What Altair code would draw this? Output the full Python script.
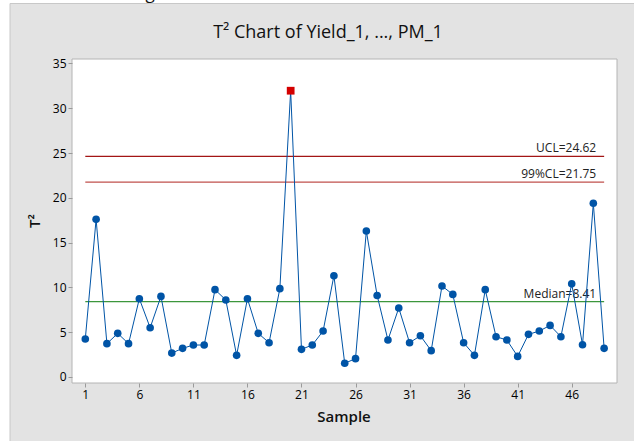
import altair as alt
import pandas as pd

samples = list(range(1, 50))
t2_values = [4.24, 17.6, 3.72, 4.87, 3.72, 8.74, 5.5, 9.0, 2.67, 3.2,
             3.57, 3.57, 9.75, 8.6, 2.42, 8.74, 4.87, 3.83, 9.86, 31.96,
             3.09, 3.57, 5.13, 11.3, 1.53, 2.05, 16.3, 9.1, 4.13, 7.7,
             3.83, 4.6, 2.94, 10.16, 9.22, 3.83, 2.42, 9.75, 4.5, 4.13,
             2.3, 4.76, 5.13, 5.76, 4.5, 10.4, 3.6, 19.4, 3.2]
limit_names = ["UCL", "99%CL", "Median"]
limit_values = [24.62, 21.75, 8.41]
limit_labels = ["UCL=24.62", "99%CL=21.75", "Median=8.41"]
limit_colors = ["#A31515", "#C0504D", "#3C963C"]
x_ticks = [1, 6, 11, 16, 21, 26, 31, 36, 41, 46]
y_ticks = [0, 5, 10, 15, 20, 25, 30, 35]

UCL = limit_values[0]
FONT = "Open Sans"
W, H = 545, 324

df = pd.DataFrame({"Sample": samples, "T2": t2_values})
lim = pd.DataFrame({"name": limit_names, "value": limit_values,
                    "label": limit_labels, "color": limit_colors,
                    "start": [1] * 3, "end": [49] * 3})
one = pd.DataFrame({"k": [0]})

xscale = alt.Scale(domain=[-0.23, 50.19], nice=False, zero=False)
yscale = alt.Scale(domain=[-0.67, 35.5], nice=False, zero=False)

xaxis = alt.Axis(values=x_ticks, title=None, grid=False, domain=False,
                 tickColor="#9a9a9a", tickSize=4, labelFont=FONT,
                 labelFontSize=12, labelColor="#000000", labelPadding=2,
                 zindex=1)
yaxis = alt.Axis(values=y_ticks, title=None, grid=False, domain=False,
                 tickColor="#9a9a9a", tickSize=4, labelFont=FONT,
                 labelFontSize=12, labelColor="#000000", labelPadding=2,
                 zindex=1)

panel = alt.Chart(one).mark_rect(fill="#e3e3e3", stroke="#c8c8c8",
                                 strokeWidth=1).encode(
    x=alt.value(-62), x2=alt.value(W + 30), y=alt.value(-55.5),
    y2=alt.value(H + 70))

frame = alt.Chart(one).mark_rect(fill="white", stroke="#b4b4b4",
                                 strokeWidth=1).encode(
    x=alt.value(0), x2=alt.value(W), y=alt.value(0), y2=alt.value(H))

base = alt.Chart(df).encode(
    x=alt.X("Sample:Q", scale=xscale, axis=xaxis),
    y=alt.Y("T2:Q", scale=yscale, axis=yaxis))

rules = alt.Chart(lim).mark_rule(strokeWidth=1.2).encode(
    x=alt.X("start:Q", scale=xscale), x2="end:Q",
    y=alt.Y("value:Q", scale=yscale),
    color=alt.Color("color:N", scale=None))

rule_text = alt.Chart(lim).mark_text(align="right", baseline="alphabetic",
                                     dx=-8, dy=-4, font=FONT, fontSize=12,
                                     color="#222222").encode(
    x=alt.X("end:Q", scale=xscale), y=alt.Y("value:Q", scale=yscale),
    text="label:N")

line = base.mark_line(color="#0054A6", strokeWidth=1)
pts = base.mark_point(filled=True, shape="circle", size=58, opacity=1,
                      color="#0054A6").transform_filter(alt.datum.T2 <= UCL)
out = base.mark_point(filled=True, shape="square", size=60, opacity=1,
                      color="#D40000").transform_filter(alt.datum.T2 > UCL)

title = alt.Chart(one).mark_text(font=FONT, fontSize=18, color="#111111",
                                 align="center", baseline="alphabetic").encode(
    x=alt.value(256), y=alt.value(-21), text=alt.value("T² Chart of Yield_1, ..., PM_1"))
xtitle = alt.Chart(one).mark_text(font=FONT, fontSize=15, fontWeight=600,
                                  color="#111111", align="center",
                                  baseline="alphabetic").encode(
    x=alt.value(272), y=alt.value(H + 39), text=alt.value("Sample"))
ytitle = alt.Chart(one).mark_text(font=FONT, fontSize=15, fontWeight=600,
                                  color="#111111", align="center",
                                  baseline="middle", angle=270).encode(
    x=alt.value(-37), y=alt.value(162), text=alt.value("T²"))
frag = alt.Chart(one).mark_text(font=FONT, fontSize=17, color="#111111",
                                align="center", baseline="alphabetic").encode(
    x=alt.value(150 - 72), y=alt.value(-60), text=alt.value("g"))

chart = alt.layer(panel, frame, rules, rule_text, line, pts, out,
                  title, xtitle, ytitle, frag).properties(
    width=W, height=H,
    autosize=alt.AutoSizeParams(type="none"),
    padding={"left": 72, "top": 59, "right": 17, "bottom": 58},
    background="white",
).configure_view(stroke=None)

chart.save("out.html", embed_options={"renderer": "svg", "actions": False})
